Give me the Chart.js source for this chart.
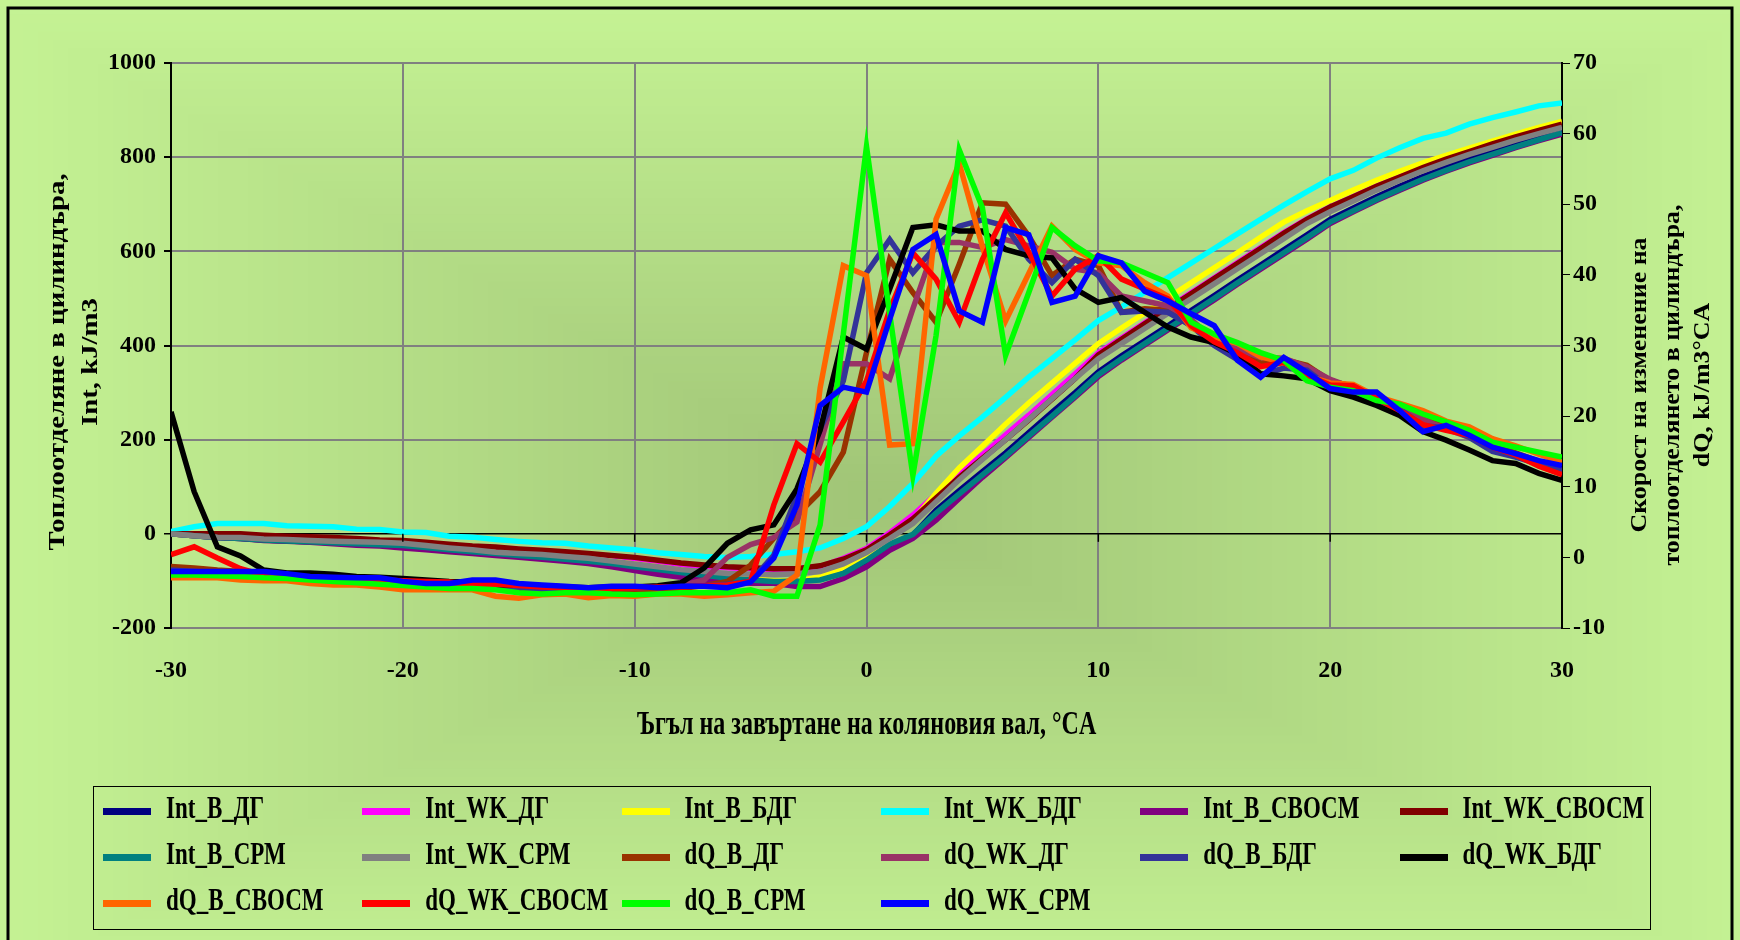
<!DOCTYPE html>
<html>
<head>
<meta charset="utf-8">
<script src="https://cdn.jsdelivr.net/npm/chart.js"></script>
<style>
  html, body { margin: 0; padding: 0; background: #c3f091; }
  #wrap { position: relative; width: 1740px; height: 940px; overflow: hidden; }
  #legend { position: absolute; left: 93px; top: 786px; width: 1558px; height: 144px;
            border: 1.5px solid #000; box-sizing: border-box; }
  .item { position: absolute; height: 40px; font: bold 23px "Liberation Serif", serif; color: #000; }
  .item .sw { position: absolute; left: 0; top: 17px; width: 48px; height: 7px; }
  .item .tx { position: absolute; left: 63px; top: 4px; white-space: nowrap;
              transform: scaleY(1.4); transform-origin: 0 50%; }
</style>
</head>
<body>
<div id="wrap">
  <canvas id="heatChart" width="1740" height="940"></canvas>
  <div id="legend"></div>
</div>
<script>
// crank angle, °CA
const angles = [-30,-29,-28,-27,-26,-25,-24,-23,-22,-21,-20,-19,-18,-17,-16,-15,-14,-13,-12,-11,
  -10,-9,-8,-7,-6,-5,-4,-3,-2,-1,0,1,2,3,4,5,6,7,8,9,10,
  11,12,13,14,15,16,17,18,19,20,21,22,23,24,25,26,27,28,29,30];

// integral heat release, kJ/m3 (left axis)
const intVDG = [0,-4,-8,-10,-13,-15,-17,-19,-21,-23,-26,-30,-34,-38,-42,-46,-50,-54,-58,-63,
  -70,-76,-82,-88,-93,-97,-100,-100,-96,-82,
  -59,-28,-3,50,92,132,172,215,258,300,344,
  378,410,442,474,506,539,571,603,635,668,692,716,738,759,778,796,812,828,843,857];
const intWkDG = [0,-3,-6,-8,-10,-12,-13,-15,-16,-18,-20,-24,-28,-32,-36,-40,-43,-46,-50,-54,
  -58,-62,-66,-70,-72,-74,-76,-74,-70,-52,
  -31,2,40,84,128,168,210,252,296,340,384,
  416,448,480,512,544,576,608,640,669,694,716,738,758,778,795,811,827,842,856,869];
const intVBDG = [0,-4,-7,-8,-11,-12,-14,-16,-17,-18,-20,-25,-30,-34,-39,-42,-44,-48,-52,-58,
  -64,-70,-77,-84,-90,-95,-99,-101,-91,-72,
  -45,-8,28,86,140,186,233,278,320,362,404,
  437,469,501,533,565,597,630,662,686,708,730,751,770,788,804,819,834,849,863,876];
const intWkBDG = [5,15,22,22,22,17,16,15,10,9,4,3,-5,-7,-12,-16,-19,-20,-26,-30,
  -34,-40,-44,-48,-50,-48,-44,-38,-30,-10,
  15,58,107,165,208,248,290,333,372,412,453,
  482,513,544,575,606,637,668,698,727,754,772,798,820,840,851,870,884,896,909,915];
const intVSVOSM = [0,-4,-8,-10,-14,-16,-18,-21,-24,-26,-30,-34,-38,-42,-46,-50,-54,-58,-63,-70,
  -78,-86,-92,-98,-102,-105,-105,-112,-112,-95,
  -70,-35,-10,29,75,120,162,205,248,290,334,
  369,401,433,465,497,530,562,594,626,659,684,708,730,751,770,788,804,820,835,849];
const intWkSVOSM = [0,0,0,0,-3,-5,-6,-8,-10,-13,-14,-18,-22,-26,-28,-32,-35,-38,-42,-46,
  -50,-56,-62,-66,-70,-72,-74,-74,-68,-54,
  -34,-2,32,76,120,160,200,242,286,330,380,
  413,446,478,510,542,574,606,638,668,694,716,738,758,778,796,812,828,843,857,870];
const intVSRM = [0,-4,-8,-10,-13,-15,-17,-19,-21,-23,-25,-29,-34,-38,-42,-46,-50,-54,-58,-63,
  -70,-76,-82,-88,-94,-98,-101,-101,-98,-84,
  -56,-22,-1,44,85,125,165,208,250,293,338,
  372,404,436,468,500,533,565,597,629,662,686,710,732,753,772,790,806,822,837,852];
const intWkSRM = [0,-4,-7,-8,-11,-12,-14,-16,-17,-18,-20,-25,-30,-34,-39,-42,-44,-48,-52,-58,
  -64,-70,-76,-80,-84,-86,-87,-85,-80,-64,
  -40,-10,22,68,115,158,200,243,287,330,372,
  404,436,468,499,531,563,595,627,659,684,707,730,751,771,789,806,821,836,850,863];

// heat release rate, kJ/m3°CA (right axis)
const dqVDG = [-1.3,-1.5,-1.8,-2.0,-2.3,-2.5,-2.8,-3.0,-3.2,-3.4,-3.6,-3.8,-4.0,-4.2,-4.5,-4.6,-4.8,-5.0,-5.0,-4.9,
  -4.8,-4.6,-4.4,-4.0,-3.4,-1.1,2.7,6.0,9.3,14.9,
  29,42.2,37.5,33.3,41.5,50.2,50.0,45.5,39.9,42.2,41.3,
  34.7,35.2,35.0,32.8,31.3,29.2,27.5,28.0,27.2,25.0,24.2,22.6,21.5,19.6,18.6,17.6,16.0,14.8,13.6,12.3];
const dqWkDG = [-2.0,-2.0,-2.1,-2.3,-2.5,-2.6,-2.8,-3.0,-3.2,-3.4,-3.5,-3.6,-3.8,-4.0,-4.1,-4.2,-4.3,-4.3,-4.4,-4.4,
  -4.3,-4.2,-4.0,-3.2,0.0,1.8,2.8,5.0,16,27.4,
  27.4,25.3,35.2,44.6,44.6,43.9,45.0,44.1,43.2,40.8,40.3,
  37.0,36.3,35.6,33.7,30.8,29.5,28.3,28.2,27.0,25.2,24.0,22.5,21.2,19.5,18.2,17.0,15.5,14.5,13.3,12.2];
const dqVBDG = [-1.8,-2.0,-2.2,-2.4,-2.6,-2.7,-2.8,-3.0,-3.2,-3.4,-3.5,-3.6,-3.8,-4.0,-4.2,-4.3,-4.4,-4.5,-4.5,-4.4,
  -4.3,-4.2,-4.1,-4.0,-3.8,-3.4,0.3,8.8,18.2,25,
  40.3,45.0,40.3,44.1,46.9,47.8,46.9,42.2,38.9,42.2,39.9,
  34.7,34.9,34.7,32.8,30.0,28.0,25.8,26.8,26.5,24.0,23.3,22.2,21.0,18.6,18.4,17.0,15.0,14.2,13.2,12.3];
const dqWkBDG = [20.6,9.3,1.5,0.2,-1.8,-2.2,-2.2,-2.4,-2.7,-2.8,-3.0,-3.2,-3.4,-3.5,-3.9,-3.9,-4.0,-4.2,-4.3,-4.2,
  -4.2,-4.0,-3.6,-1.5,2.0,3.9,4.6,9.7,18,31.2,
  29.5,38,46.7,47.1,46.2,46.2,43.6,42.7,42.4,38.0,36.1,
  36.8,34.7,32.6,31.2,30.4,28.8,26.0,25.7,25.3,23.6,22.7,21.5,20.1,17.8,16.6,15.2,13.7,13.3,11.9,10.9];
const dqVSVOSM = [-2.9,-2.9,-2.9,-3.2,-3.3,-3.3,-3.7,-3.9,-3.9,-4.2,-4.6,-4.6,-4.6,-4.6,-5.5,-5.8,-5.3,-5.2,-5.7,-5.4,
  -5.5,-5.2,-5.2,-5.5,-5.3,-5.0,-4.8,-2.5,24,41.3,
  39.9,15.9,16.1,47.9,55.8,44,33.5,40.2,46.9,43.6,41.7,
  41.3,38.9,37.0,32.5,31.2,30.3,28.4,27.6,25.7,24.7,24.5,22.8,21.8,20.8,19.3,18.5,16.8,15.8,14.6,13.5];
const dqWkSVOSM = [0.4,1.5,-0.1,-1.6,-2.5,-2.7,-2.9,-3.0,-3.1,-3.2,-3.3,-3.4,-3.5,-3.8,-3.8,-4.0,-4.2,-4.3,-4.5,-4.4,
  -4.3,-4.2,-4.2,-4.0,-3.9,-3.4,7.4,16.1,13.5,19.2,
  25,35,43.1,39.4,33.3,42.2,48.8,43.2,37.0,40.8,42.7,
  39.4,38.0,36.6,32.8,30.5,29.0,27.0,27.6,25.8,24.4,24.3,22.5,20.8,18.8,18.0,17.3,15.6,14.5,12.9,11.7];
const dqVSRM = [-2.5,-2.5,-2.6,-2.7,-2.9,-3.0,-3.2,-3.4,-3.6,-3.8,-4.0,-4.2,-4.4,-4.4,-4.6,-5.0,-5.2,-5.0,-5.0,-5.2,
  -5.3,-5.2,-5.0,-5.0,-5.0,-4.6,-5.5,-5.5,4.6,31.6,
  58.2,34.5,11.6,31.4,57.7,49.5,28.6,37.5,46.7,44.1,42.0,
  41.7,40.3,38.9,33.3,31.6,30.4,29.0,27.9,25.0,24.1,23.6,22.2,21.7,20.3,19.2,18.0,16.3,15.6,14.9,14.2];
const dqWkSRM = [-2.0,-2.0,-2.0,-2.0,-2.0,-2.3,-2.7,-2.8,-2.9,-2.9,-3.4,-3.7,-3.7,-3.2,-3.2,-3.7,-3.9,-4.1,-4.3,-4.1,
  -4.1,-4.3,-4.1,-4.1,-4.3,-3.5,-0.1,7.4,21.5,24.1,
  23.4,33.7,43.6,45.7,34.9,33.3,46.7,45.7,36.1,37.0,42.7,
  41.7,37.7,36.3,34.5,32.8,27.9,25.5,28.3,26.2,23.9,23.4,23.4,20.8,17.8,18.7,17.3,15.6,14.7,13.7,13.0];

const seriesNames = ['Int_В_ДГ','Int_WK_ДГ','Int_В_БДГ','Int_WK_БДГ','Int_В_СВОСМ','Int_WK_СВОСМ',
  'Int_В_СРМ','Int_WK_СРМ','dQ_В_ДГ','dQ_WK_ДГ','dQ_В_БДГ','dQ_WK_БДГ',
  'dQ_В_СВОСМ','dQ_WK_СВОСМ','dQ_В_СРМ','dQ_WK_СРМ'];
const seriesData = [intVDG, intWkDG, intVBDG, intWkBDG, intVSVOSM, intWkSVOSM, intVSRM, intWkSRM,
  dqVDG, dqWkDG, dqVBDG, dqWkBDG, dqVSVOSM, dqWkSVOSM, dqVSRM, dqWkSRM];
const seriesColors = ['#000080','#ff00ff','#ffff00','#00ffff','#800080','#800000','#008080','#808080',
  '#993300','#993366','#333399','#000000','#ff6600','#ff0000','#00ff00','#0000ff'];

const FONT = '"Liberation Serif", "Times New Roman", serif';

const datasets = seriesData.map((vals, i) => ({
  label: seriesNames[i],
  data: vals.map((v, k) => ({ x: angles[k], y: v })),
  borderColor: seriesColors[i],
  backgroundColor: seriesColors[i],
  borderWidth: 5.5,
  pointRadius: 0,
  tension: 0,
  fill: false,
  yAxisID: i < 8 ? 'y' : 'y1',
  order: seriesData.length - 1 - i   // later series on top, as in the original
}));

// rectangular "from centre" gradient behind everything, plus outer frame
const bgPlugin = {
  id: 'bg',
  beforeDraw(chart) {
    const c = chart.ctx;
    const edge = [197, 243, 148], mid = [160, 196, 118];
    const cx = 880, cy = 500, steps = 60;
    c.save();
    for (let k = steps; k >= 0; k--) {
      const t = k / steps;
      const col = edge.map((e, j) => Math.round(mid[j] + (e - mid[j]) * t));
      c.fillStyle = `rgb(${col[0]},${col[1]},${col[2]})`;
      const hw = 900 * t + 2, hh = 500 * t + 2;
      c.fillRect(cx - hw, cy - hh, hw * 2, hh * 2 + (k === steps ? 60 : 0));
    }
    c.restore();
  },
  afterDraw(chart) {
    const c = chart.ctx, a = chart.chartArea;
    const xs = chart.scales.x, yl = chart.scales.y;
    c.save();
    // x axis line crossing at Int = 0, with tick marks
    const y0 = yl.getPixelForValue(0);
    c.strokeStyle = '#000';
    c.lineWidth = 1.5;
    [-20, -10, 0, 10, 20].forEach(v => {
      const px = xs.getPixelForValue(v);
      c.beginPath(); c.moveTo(px, y0); c.lineTo(px, y0 + 8); c.stroke();
    });
    // frame
    c.lineWidth = 3;
    c.strokeRect(8, 8, 1724, 960);
    // axis titles (text is stretched like the original)
    c.fillStyle = '#000';
    c.font = 'bold 24px ' + FONT;
    c.textAlign = 'center';
    c.textBaseline = 'middle';
    const vtext = (lines, xsPos, cyPos, stretch) => {
      lines.forEach((s, i) => {
        c.save();
        c.translate(xsPos[i], cyPos);
        c.rotate(-Math.PI / 2);
        c.scale(stretch, 1);
        c.fillText(s, 0, 0);
        c.restore();
      });
    };
    vtext(['Топлоотделяне в цилиндъра,', 'Int, kJ/m3'], [58, 91], 362, 1.2);
    vtext(['Скорост на изменение на', 'топлоотделянето в цилиндъра,', 'dQ, kJ/m3°CA'], [1640, 1673, 1703], 385, 1.08);
    c.save();
    c.translate((a.left + a.right) / 2, 725);
    c.scale(1, 1.4);
    c.fillText('Ъгъл на завъртане на коляновия вал, °CA', 0, 0);
    c.restore();
    c.restore();
  }
};

const tickFont = { family: FONT, weight: 'bold', size: 24 };

const ctxHeat = document.getElementById('heatChart').getContext('2d');
const heatChart = new Chart(ctxHeat, {
  type: 'line',
  data: { datasets: datasets },
  plugins: [bgPlugin],
  options: {
    responsive: false,
    animation: false,
    layout: { padding: { top: 63, left: 0, right: 0, bottom: 0 } },
    plugins: { legend: { display: false }, tooltip: { enabled: false } },
    scales: {
      x: {
        type: 'linear',
        min: -30, max: 30,
        ticks: { stepSize: 10, color: '#000', font: tickFont, padding: 28, callback: (v) => String(v) },
        grid: {
          color: (c) => (c.tick && Math.abs(c.tick.value) === 30) ? 'rgba(0,0,0,0)' : '#808080',
          lineWidth: 2,
          drawTicks: false
        },
        border: { color: '#808080', width: 2 },
        afterFit(scale) { scale.height = 312; }
      },
      y: {
        position: 'left',
        min: -200, max: 1000,
        ticks: { stepSize: 200, color: '#000', font: tickFont, padding: 8, callback: (v) => String(v) },
        grid: {
          color: (c) => (c.tick && c.tick.value === 0) ? '#000' : '#808080',
          lineWidth: (c) => (c.tick && c.tick.value === 0) ? 1.5 : 2,
          tickColor: '#000',
          tickLength: 7
        },
        border: { color: '#000', width: 2 },
        afterFit(scale) { scale.width = 171; }
      },
      y1: {
        position: 'right',
        min: -10, max: 70,
        ticks: { stepSize: 10, color: '#000', font: tickFont, padding: 3, callback: (v) => String(v) },
        grid: { drawOnChartArea: false, tickColor: '#000', tickLength: 8 },
        border: { color: '#000', width: 2 },
        afterFit(scale) { scale.width = 178; }
      }
    }
  }
});

// legend laid out in the original 6-column grid
const legendBox = document.getElementById('legend');
seriesNames.forEach((name, i) => {
  const col = i % 6, row = Math.floor(i / 6);
  const item = document.createElement('div');
  item.className = 'item';
  item.style.left = (9 + col * 259.3) + 'px';
  item.style.top = (4 + row * 46) + 'px';
  item.innerHTML = '<div class="sw" style="background:' + seriesColors[i] + '"></div><div class="tx"></div>';
  item.querySelector('.tx').textContent = name;
  legendBox.appendChild(item);
});
</script>
</body>
</html>
